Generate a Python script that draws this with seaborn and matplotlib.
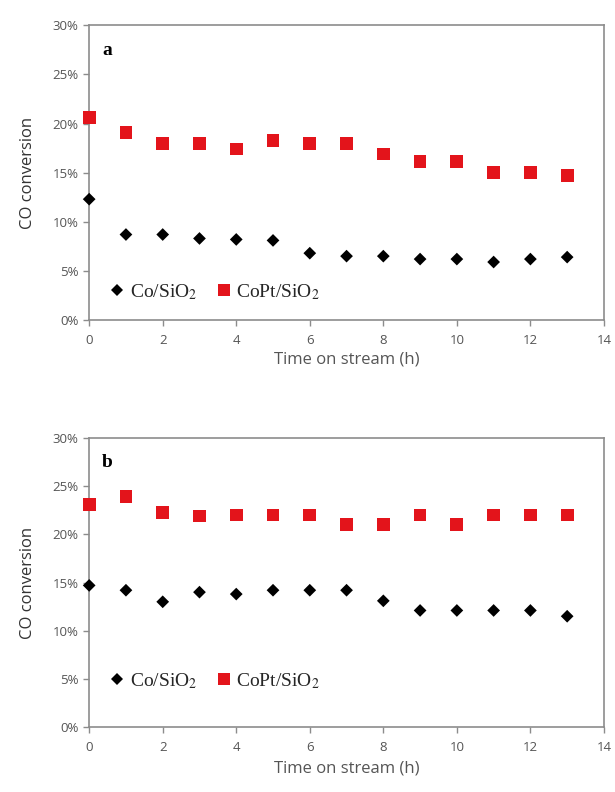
import numpy as np
import pandas as pd
import seaborn as sns
import matplotlib.pyplot as plt
from matplotlib.ticker import PercentFormatter

OUTPUT_PATH = "out.png"

hours = list(range(14))

# panel a
co_a = [12.3, 8.7, 8.7, 8.3, 8.2, 8.1, 6.8, 6.5, 6.5, 6.2, 6.2, 5.9, 6.2, 6.4]
copt_a = [20.6, 19.1, 18.0, 18.0, 17.4, 18.3, 18.0, 18.0, 16.9, 16.1, 16.1, 15.0, 15.0, 14.7]

# panel b
co_b = [14.7, 14.2, 13.0, 14.0, 13.8, 14.2, 14.2, 14.2, 13.1, 12.1, 12.1, 12.1, 12.1, 11.5]
copt_b = [23.1, 23.9, 22.3, 21.9, 22.0, 22.0, 22.0, 21.0, 21.0, 22.0, 21.0, 22.0, 22.0, 22.0]

series_labels = ["Co/SiO$_2$", "CoPt/SiO$_2$"]
panel_labels = ["a", "b"]
y_ticks = [0, 5, 10, 15, 20, 25, 30]
x_ticks = [0, 2, 4, 6, 8, 10, 12, 14]

sns.set_style("ticks")
plt.rcParams['font.family'] = ['Open Sans', 'DejaVu Sans']
plt.rcParams['mathtext.fontset'] = 'stix'

AXIS_GREY = "#8c8c8c"
TEXT_GREY = "#555555"


def make_frame(co, copt):
    df = pd.DataFrame({
        "hour": hours * 2,
        "conv": co + copt,
        "catalyst": [series_labels[0]] * len(co) + [series_labels[1]] * len(copt),
    })
    return df


def draw_panel(ax, df, label, leg_y, xlabel_pad):
    sns.scatterplot(
        data=df, x="hour", y="conv", hue="catalyst", style="catalyst", size="catalyst",
        palette={series_labels[0]: "black", series_labels[1]: "#e3141b"},
        markers={series_labels[0]: "D", series_labels[1]: "s"},
        sizes={series_labels[0]: 42, series_labels[1]: 85},
        linewidth=0, ax=ax, legend=True,
    )
    for c in ax.collections:
        c.set_clip_on(False)
        c.set_zorder(3)

    ax.set_xlim(0, 14)
    ax.set_ylim(0, 30)
    ax.set_xticks(x_ticks)
    ax.set_yticks(y_ticks)
    ax.yaxis.set_major_formatter(PercentFormatter(decimals=0))
    ax.set_xlabel("Time on stream (h)", fontsize=12, color=TEXT_GREY, labelpad=xlabel_pad)
    ax.set_ylabel("CO conversion", fontsize=12, color="#333333", labelpad=12)
    ax.tick_params(axis="both", colors=AXIS_GREY, labelcolor=TEXT_GREY,
                   labelsize=9.5, length=4, width=1)
    ax.tick_params(axis="x", pad=6)
    for sp in ax.spines.values():
        sp.set_visible(True)
        sp.set_color(AXIS_GREY)
        sp.set_linewidth(1.2)

    ax.text(0.025, 0.9, label, transform=ax.transAxes, fontsize=14,
            fontweight="bold", family="Liberation Serif", color="black")

    handles, labels = ax.get_legend_handles_labels()
    leg = ax.legend(handles, labels, loc="center left", ncol=2, frameon=False,
                    bbox_to_anchor=(0.0, leg_y), handletextpad=-0.1,
                    handlelength=1.5, borderpad=0.2,
                    columnspacing=0.6, prop={"family": "Liberation Serif", "size": 14})
    sizes = [6, 8.5]
    for h, ms in zip(leg.legend_handles, sizes):
        if hasattr(h, "set_markersize"):
            h.set_markersize(ms)


fig = plt.figure(figsize=(6.15, 7.92), dpi=100)
ax_a = fig.add_axes([0.145, 0.596, 0.837, 0.372])
ax_b = fig.add_axes([0.145, 0.082, 0.837, 0.365])

draw_panel(ax_a, make_frame(co_a, copt_a), panel_labels[0], 0.095, 3)
draw_panel(ax_b, make_frame(co_b, copt_b), panel_labels[1], 0.16, 5)

fig.savefig(OUTPUT_PATH, dpi=100)
print(f"Saved: {OUTPUT_PATH}")
